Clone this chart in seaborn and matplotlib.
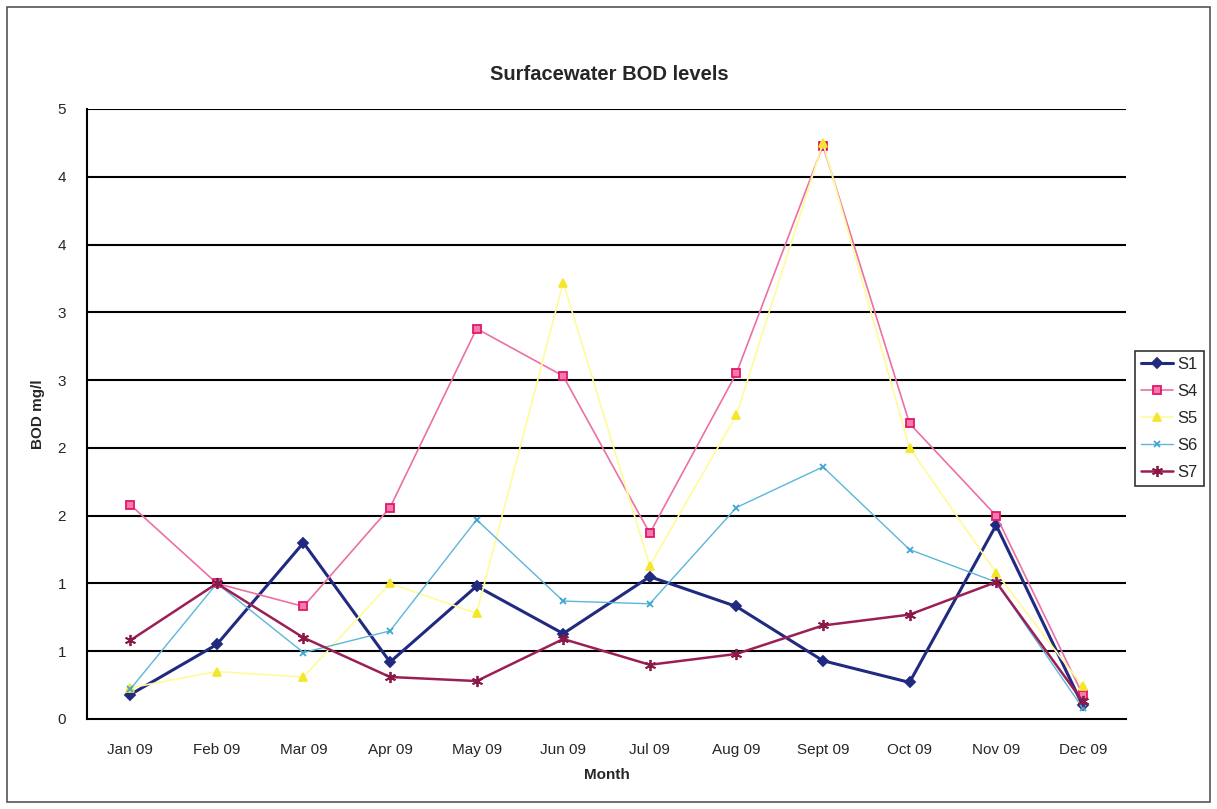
import matplotlib
matplotlib.use("Agg")
import matplotlib.pyplot as plt
import seaborn as sns
import pandas as pd
from matplotlib.patches import Rectangle

months = ["Jan 09", "Feb 09", "Mar 09", "Apr 09", "May 09", "Jun 09",
          "Jul 09", "Aug 09", "Sept 09", "Oct 09", "Nov 09", "Dec 09"]

s1 = [0.18, 0.55, 1.30, 0.42, 0.98, 0.63, 1.05, 0.83, 0.43, 0.27, 1.43, 0.10]
s4 = [1.58, 1.00, 0.83, 1.56, 2.88, 2.53, 1.37, 2.55, 4.23, 2.18, 1.50, 0.18]
s5 = [0.23, 0.35, 0.31, 1.00, 0.78, 3.22, 1.13, 2.24, 4.25, 2.00, 1.08, 0.24]
s6 = [0.22, 1.00, 0.49, 0.65, 1.47, 0.87, 0.85, 1.56, 1.86, 1.25, 1.01, 0.08]
s7 = [0.58, 1.00, 0.60, 0.31, 0.28, 0.59, 0.40, 0.48, 0.69, 0.77, 1.01, 0.13]

y_ticks = [0, 0.5, 1.0, 1.5, 2.0, 2.5, 3.0, 3.5, 4.0, 4.5]
y_tick_labels = ["0", "1", "1", "2", "2", "3", "3", "4", "4", "5"]

series = {"S1": s1, "S4": s4, "S5": s5, "S6": s6, "S7": s7}

styles = {
    "S1": dict(color="#1F2A80", lw=2.2, marker="D", ms=5.5, mfc="#1F2A80", mec="#1F2A80"),
    "S4": dict(color="#EC6FA6", lw=1.2, marker="s", ms=5.5, mfc="#F47AAE", mec="#E0186A"),
    "S5": dict(color="#FFFB9A", lw=1.2, marker="^", ms=6, mfc="#F4E62A", mec="#F4E62A"),
    "S6": dict(color="#5CB6DA", lw=1.0, marker="x", ms=5, mfc="#3FA6D2", mec="#3FA6D2"),
    "S7": dict(color="#9B1F55", lw=1.8, marker=(6, 2, 0), ms=8, mfc="#8A1848", mec="#8A1848"),
}

sns.set_style("white")
plt.rcParams["font.family"] = ["Liberation Sans", "DejaVu Sans"]

fig = plt.figure(figsize=(12.17, 8.09), dpi=100)
ax = fig.add_axes([87 / 1217, 1 - 719 / 809, (1126 - 87) / 1217, (719 - 109) / 809])

xpos = list(range(len(months)))
for name, vals in series.items():
    st = styles[name]
    df = pd.DataFrame({"pos": xpos, "val": vals})
    sns.lineplot(data=df, x="pos", y="val", ax=ax, color=st["color"], linewidth=st["lw"],
                 marker=st["marker"], markersize=st["ms"], markerfacecolor=st["mfc"],
                 markeredgecolor=st["mec"], markeredgewidth=1.3, label=name)

ax.set_xlim(-0.5, len(months) - 0.5)
ax.set_ylim(0, 4.5)

# horizontal gridlines
for yv in y_ticks[1:]:
    ax.axhline(yv, color="black", lw=1.5, zorder=0)

ax.set_yticks(y_ticks)
ax.set_yticklabels(y_tick_labels, fontsize=11)
ax.set_xticks(xpos)
ax.set_xticklabels(months, fontsize=11)
ax.set_xticks([p - 0.5 for p in xpos] + [len(months) - 0.5], minor=True)
ax.tick_params(axis="x", which="major", length=0, pad=17)
ax.tick_params(axis="x", which="minor", length=5, width=1, color="black", direction="out")
ax.tick_params(axis="y", which="major", length=5, width=1, color="black", direction="out", pad=10)

for side in ["top", "right"]:
    ax.spines[side].set_visible(False)
for side in ["left", "bottom"]:
    ax.spines[side].set_color("black")
    ax.spines[side].set_linewidth(1.5)

ax.set_xlabel("Month", fontsize=11, fontweight="bold", labelpad=8)
ax.set_ylabel("BOD mg/l", fontsize=11, fontweight="bold", labelpad=9)
fig.text(0.5 * (87 + 1126) / 1217 + 0.002, 1 - 75 / 809, "Surfacewater BOD levels",
         ha="center", va="center", fontsize=14.5, fontweight="bold")

leg = ax.legend(loc="upper left", bbox_to_anchor=(1135 / 1217, 1 - 351 / 809),
                bbox_transform=fig.transFigure, frameon=True, fancybox=False,
                fontsize=12, handlelength=1.9, handletextpad=0.3, borderpad=0.35,
                labelspacing=0.72, borderaxespad=0)
leg.get_frame().set_edgecolor("black")
leg.get_frame().set_linewidth(1.2)

# chart-area border
fig.patches.append(Rectangle((7 / 1217, 7 / 809), 1203 / 1217, 795 / 809,
                             transform=fig.transFigure, fill=False,
                             edgecolor="#555555", lw=1.2))

fig.savefig("out.png", dpi=100)
